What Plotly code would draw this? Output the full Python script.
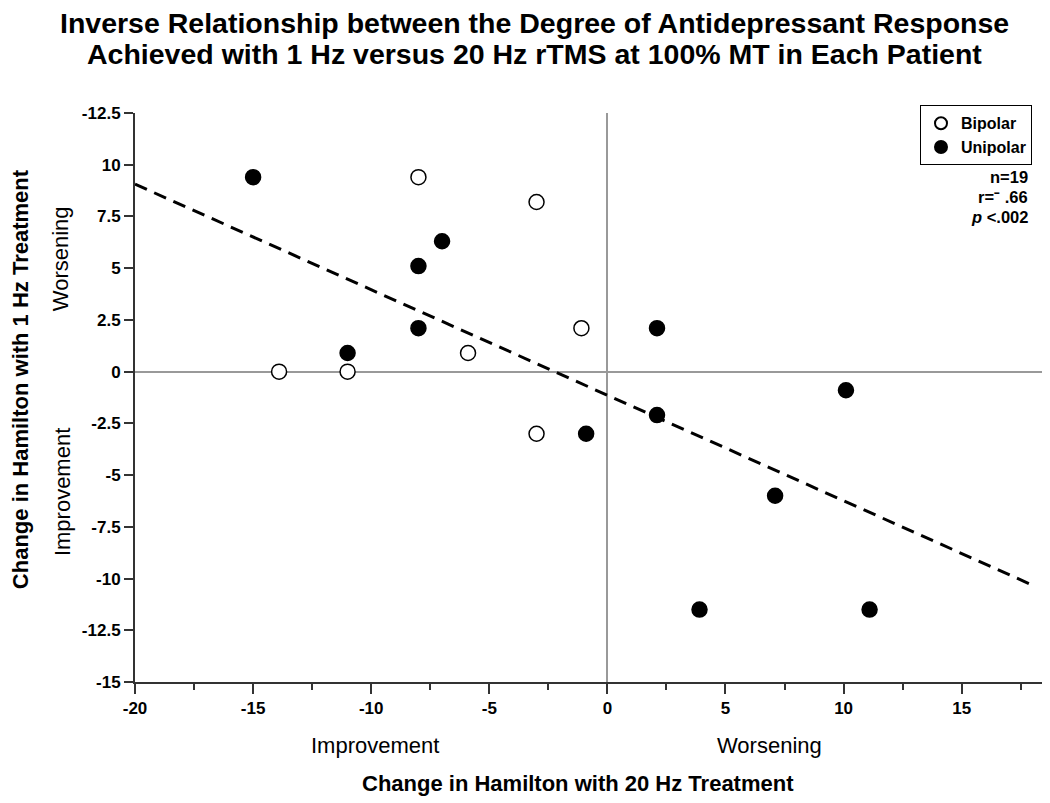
import plotly.graph_objects as go
import numpy as np

# Data
bipolar_x = [-8.0, -3.0, -1.1, -5.9, -13.9, -11.0, -3.0]
bipolar_y = [9.4, 8.2, 2.1, 0.9, 0.0, 0.0, -3.0]
unipolar_x = [-15.0, -7.0, -8.0, -8.0, -11.0, 2.1, 2.1, 10.1, -0.9, 7.1, 3.9, 11.1]
unipolar_y = [9.4, 6.3, 5.1, 2.1, 0.9, 2.1, -2.1, -0.9, -3.0, -6.0, -11.5, -11.5]

fit_slope = -0.51
fit_intercept = -1.14
fit_x_range = [-20.0, 18.0]

x_tick_vals = [-20, -15, -10, -5, 0, 5, 10, 15]
y_tick_vals = [12.5, 10, 7.5, 5, 2.5, 0, -2.5, -5, -7.5, -10, -12.5, -15]
y_tick_text = ["-12.5", "10", "7.5", "5", "2.5", "0", "-2.5", "-5", "-7.5", "-10", "-12.5", "-15"]

FONT = "Liberation Sans, Arial, Helvetica, sans-serif"

fig = go.Figure()

fx = np.array(fit_x_range)
fig.add_trace(go.Scatter(
    x=fx, y=fit_intercept + fit_slope * fx, mode="lines",
    line=dict(color="black", width=3, dash="13px,8px"),
    showlegend=False, hoverinfo="skip"))

fig.add_trace(go.Scatter(
    x=bipolar_x, y=bipolar_y, mode="markers", name="<b>Bipolar</b>",
    marker=dict(size=15, color="white", line=dict(color="black", width=1.5))))
fig.add_trace(go.Scatter(
    x=unipolar_x, y=unipolar_y, mode="markers", name="<b>Unipolar</b>",
    marker=dict(size=15, color="black", line=dict(color="black", width=1.5))))

# plot area geometry (figure pixels; page has an 8px body offset)
L, R, T, B = 127, 1034, 104.7, 674
W, H = R - L, B - T

def px(xp):
    return (xp - L) / W

def py(yp):
    return (B - yp) / H

def note(text, x, y, size, angle=0, xanchor="center"):
    return dict(text=text, textangle=angle, x=px(x), y=py(y), xref="paper", yref="paper",
                showarrow=False, font=dict(size=size, family=FONT, color="black"),
                xanchor=xanchor, yanchor="middle")

ann = [
    note("<b>Inverse Relationship between the Degree of Antidepressant Response</b>", 526, 15, 28.5),
    note("<b>Achieved with 1 Hz versus 20 Hz rTMS at 100% MT in Each Patient</b>", 526, 46, 28.5),
    note("<b>Change in Hamilton with 1 Hz Treatment</b>", 12, 371, 22, angle=-90),
    note("Worsening", 52, 251, 22, angle=-90),
    note("Improvement", 54, 484, 22, angle=-90),
    note("Improvement", 367, 738, 22),
    note("Worsening", 761, 738, 22),
    note("<b>Change in Hamilton with 20 Hz Treatment</b>", 570, 776, 22),
]
stats = ["<b>n=19</b>", "<b>r=\u207b .66</b>", "<b><i>p</i> &lt;.002</b>"]
for i, s in enumerate(stats):
    ann.append(note(s, 1022, 169 + 20 * i, 16.5, xanchor="right"))

fig.update_layout(
    width=1050, height=803,
    margin=dict(l=L, r=1050 - R, t=T, b=803 - B),
    paper_bgcolor="white", plot_bgcolor="white",
    font=dict(family=FONT, color="black"),
    annotations=ann,
    legend=dict(x=px(1024), y=py(97), xanchor="right", yanchor="top",
                bordercolor="black", borderwidth=1, bgcolor="white",
                font=dict(size=16, family=FONT, color="black"),
                itemsizing="constant", tracegroupgap=0),
    xaxis=dict(range=[-20, 18.4], tickvals=x_tick_vals, ticktext=[f"<b>{v}</b>" for v in x_tick_vals],
               showgrid=False, zeroline=True, zerolinecolor="#999", zerolinewidth=1.5,
               showline=True, linecolor="#333", linewidth=2,
               ticks="outside", ticklen=10, tickwidth=2, tickcolor="#333",
               minor=dict(dtick=2.5, tick0=0, ticks="outside", ticklen=6, tickwidth=1.5, tickcolor="#333", showgrid=False),
               tickfont=dict(size=17, family=FONT, color="black")),
    yaxis=dict(range=[-15, 12.5], tickvals=y_tick_vals, ticktext=[f"<b>{t}</b>" for t in y_tick_text],
               showgrid=False, zeroline=True, zerolinecolor="#999", zerolinewidth=1.5,
               showline=True, linecolor="#333", linewidth=2,
               ticks="outside", ticklen=9, tickwidth=1.5, tickcolor="#333",
               tickfont=dict(size=17, family=FONT, color="black")),
)

fig.write_html("out.html")
